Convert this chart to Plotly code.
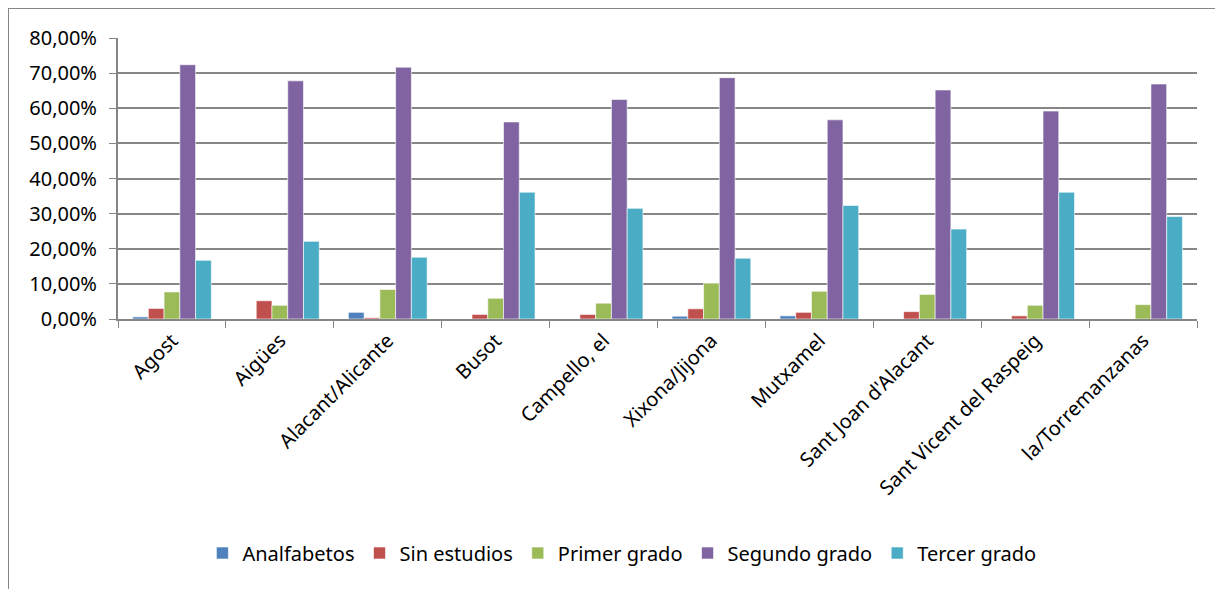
import plotly.graph_objects as go

municipios = ["Agost", "Aigües", "Alacant/Alicante", "Busot", "Campello, el",
              "Xixona/Jijona", "Mutxamel", "Sant Joan d'Alacant",
              "Sant Vicent del Raspeig", "la/Torremanzanas"]

analfabetos = [0.6, 0.0, 1.9, 0.0, 0.0, 0.8, 0.9, 0.0, 0.0, 0.0]
sin_estudios = [3.0, 5.2, 0.35, 1.3, 1.3, 2.9, 1.9, 2.1, 0.9, 0.0]
primer_grado = [7.7, 3.9, 8.4, 5.9, 4.5, 10.2, 7.9, 7.0, 3.9, 4.1]
segundo_grado = [72.4, 67.8, 71.7, 56.1, 62.5, 68.7, 56.7, 65.2, 59.2, 66.9]
tercer_grado = [16.7, 22.1, 17.6, 36.1, 31.5, 17.3, 32.3, 25.6, 36.1, 29.2]

series = [
    ("Analfabetos", analfabetos, "#4F81BD"),
    ("Sin estudios", sin_estudios, "#C0504D"),
    ("Primer grado", primer_grado, "#9BBB59"),
    ("Segundo grado", segundo_grado, "#8064A2"),
    ("Tercer grado", tercer_grado, "#4BACC6"),
]

fig = go.Figure()
for nombre, valores, color in series:
    fig.add_trace(go.Bar(
        x=municipios, y=valores, name=nombre,
        marker=dict(color=color, line=dict(color="rgba(255,255,255,0.6)", width=1)),
    ))

font = "Noto Sans, DejaVu Sans, sans-serif"

# page has an 8px body margin, so the figure is drawn 8px smaller
W, H = 1215, 581
L, T, R, B = 110, 30, 26, 270
ph = H - T - B

fig.update_layout(
    width=W, height=H,
    margin=dict(l=L, r=R, t=T, b=B),
    paper_bgcolor="white", plot_bgcolor="white",
    barmode="group", bargap=0.27, bargroupgap=0,
    separators=",.",
    font=dict(family=font, size=20, color="#000000"),
    showlegend=True,
    legend=dict(orientation="h", x=0.467, xanchor="center",
                y=-(545 - (H - B)) / ph, yanchor="middle",
                font=dict(size=20), itemwidth=30, traceorder="normal"),
    xaxis=dict(
        tickangle=-45, ticks="outside", tickson="boundaries", ticklen=7,
        tickcolor="#868686", showline=True, linecolor="#868686", linewidth=2,
        showgrid=False, tickfont=dict(size=20),
    ),
    yaxis=dict(
        range=[0, 80], dtick=10, tickformat=".2f", ticksuffix="%",
        ticks="outside", ticklen=7, tickcolor="#868686", ticklabelstandoff=8,
        showline=True, linecolor="#868686", linewidth=2,
        showgrid=True, gridcolor="#868686", gridwidth=2,
        zeroline=False, tickfont=dict(size=20),
    ),
    shapes=[dict(type="rect", xref="paper", yref="paper",
                 x0=-L / (W - L - R), x1=1.2, y0=-1.5, y1=(H - B) / ph,
                 line=dict(color="#868686", width=2), layer="below")],
)

fig.write_html("out.html")
